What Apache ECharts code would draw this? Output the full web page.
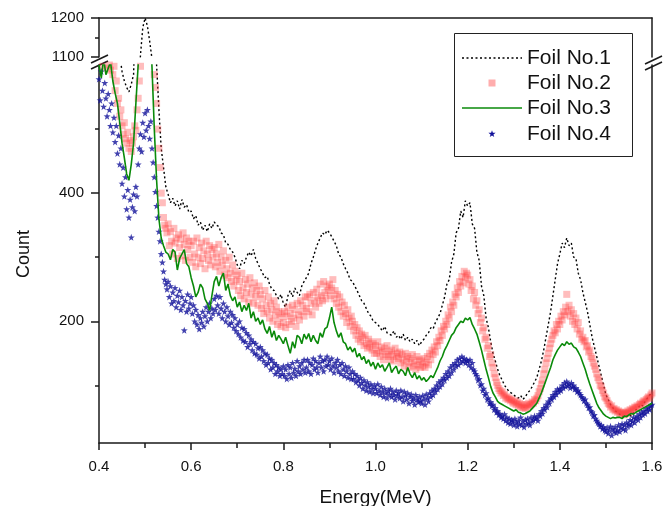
<!DOCTYPE html>
<html>
<head>
<meta charset="utf-8">
<script src="https://cdn.jsdelivr.net/npm/echarts@6/dist/echarts.min.js"></script>
<style>
  html, body { margin: 0; padding: 0; background: #fff; }
  #chart { width: 666px; height: 506px; }
</style>
</head>
<body>
<div id="chart"></div>
<script>
// channel energies start at 0.400 MeV
var energyStart = 0.4;
var lineStep = 0.005;     // foil 1 and 3 (lines)
var pointStep = 0.0025;   // foil 2 and 4 (points)

var seriesNames = ['Foil No.1', 'Foil No.2', 'Foil No.3', 'Foil No.4'];

var foil1 = [
    760, 720, 740, 700, 710, 690, 670, 650, 640, 615,
    590, 575, 565, 558, 570, 585, 700, 1000, 1105, 1175,
    1200, 1180, 1140, 1095, 800, 600, 530, 470, 440, 410,
    398, 385, 392, 380, 388, 375, 390, 378, 382, 370,
    372, 360, 365, 350, 355, 342, 350, 340, 352, 345,
    355, 350, 348, 338, 335, 322, 320, 312, 308, 300,
    288, 282, 295, 290, 300, 308, 302, 312, 298, 290,
    282, 275, 268, 270, 258, 250, 248, 240, 235, 242,
    228, 222, 240, 248, 238, 252, 245, 240, 255, 262,
    268, 275, 290, 300, 312, 322, 330, 338, 335, 342,
    338, 332, 325, 318, 305, 300, 290, 282, 275, 265,
    262, 255, 248, 240, 232, 228, 220, 212, 208, 200,
    198, 195, 190, 185, 192, 182, 180, 178, 185, 175,
    178, 172, 180, 170, 175, 168, 172, 165, 170, 162,
    168, 172, 178, 182, 190, 188, 198, 205, 212, 225,
    238, 258, 265, 292, 305, 338, 345, 372, 362, 388,
    380, 385, 352, 345, 308, 295, 255, 240, 205, 190,
    168, 150, 138, 125, 115, 108, 100, 95, 90, 88,
    85, 82, 80, 84, 78, 82, 88, 92, 98, 105,
    112, 125, 138, 155, 175, 195, 215, 240, 265, 290,
    305, 322, 315, 330, 318, 322, 300, 298, 275, 265,
    245, 230, 215, 195, 175, 160, 145, 130, 115, 100,
    85, 78, 70, 65, 60, 58, 55, 52, 50, 52,
    55, 52, 58, 62, 65, 70, 68, 75, 80, 85, 88
];

var foil2 = [
    650, 612, 630, 598, 640, 605, 620, 595, 615, 600, 592, 610, 585, 598, 560, 575, 540, 548, 520, 530,
    505, 492, 510, 485, 478, 495, 470, 482, 465, 478, 488, 505, 498, 530, 548, 575, 598, 640, 700, 760,
    850, 830, 800, 770, 720, 690, 650, 615, 585, 565, 540, 500, 470, 440, 400, 385, 362, 350, 345, 338,
    352, 318, 340, 325, 305, 345, 322, 330, 298, 335, 315, 328, 302, 338, 320, 295, 330, 312, 325, 300,
    318, 292, 325, 305, 285, 330, 300, 315, 290, 322, 298, 310, 282, 325, 305, 295, 318, 288, 312, 300,
    315, 285, 305, 292, 320, 278, 300, 288, 310, 272, 295, 282, 268, 300, 275, 262, 288, 255, 278, 265,
    272, 248, 262, 240, 275, 252, 235, 265, 245, 258, 230, 268, 242, 252, 228, 260, 238, 248, 225, 255,
    242, 220, 235, 212, 248, 225, 215, 238, 205, 228, 218, 200, 232, 210, 222, 195, 215, 205, 192, 212,
    198, 215, 190, 208, 222, 195, 212, 200, 225, 205, 218, 192, 228, 210, 202, 232, 215, 225, 208, 238,
    220, 238, 215, 242, 228, 210, 245, 232, 222, 250, 238, 228, 258, 240, 232, 262, 245, 235, 255, 248,
    258, 240, 252, 265, 235, 248, 228, 242, 222, 238, 215, 230, 208, 225, 212, 198, 218, 205, 192, 208,
    200, 185, 195, 178, 190, 172, 185, 168, 180, 175, 162, 178, 165, 158, 172, 160, 168, 155, 165, 150,
    162, 150, 168, 155, 145, 160, 152, 140, 158, 148, 162, 145, 152, 140, 155, 148, 138, 158, 145, 150,
    142, 152, 135, 148, 140, 130, 150, 138, 145, 128, 142, 135, 148, 130, 138, 125, 145, 132, 140, 128,
    138, 130, 142, 128, 135, 145, 132, 150, 140, 155, 148, 160, 152, 168, 162, 175, 170, 185, 178, 192,
    188, 200, 195, 210, 205, 222, 215, 230, 225, 242, 238, 252, 245, 262, 255, 270, 260, 278, 268, 275,
    272, 258, 265, 248, 255, 235, 245, 225, 232, 212, 218, 198, 205, 185, 190, 172, 175, 158, 162, 145,
    148, 135, 128, 118, 112, 105, 100, 95, 92, 88, 90, 84, 86, 80, 82, 78, 80, 76, 78, 74,
    72, 76, 70, 74, 68, 72, 66, 70, 65, 68, 64, 70, 66, 72, 68, 70, 74, 72, 78, 76,
    80, 84, 90, 95, 102, 108, 118, 125, 135, 142, 150, 158, 165, 172, 178, 185, 182, 195, 188, 200,
    195, 208, 202, 215, 210, 222, 242, 215, 225, 208, 218, 200, 212, 195, 205, 188, 198, 180, 185, 172,
    175, 168, 170, 160, 162, 152, 155, 145, 142, 135, 130, 125, 118, 112, 108, 100, 98, 92, 88, 82,
    80, 76, 72, 70, 66, 68, 62, 64, 60, 62, 58, 60, 56, 58, 55, 58, 54, 57, 56, 60,
    58, 62, 60, 64, 62, 66, 65, 68, 66, 70, 72, 70, 74, 76, 74, 78, 80, 82, 80, 85,
    88
];

var foil3 = [
    600, 580, 610, 585, 595, 605, 575, 556, 540, 510,
    478, 455, 430, 420, 445, 478, 540, 600, 720, 850,
    900, 820, 700, 597, 500, 420, 360, 330, 318, 308,
    305, 296, 312, 308, 280, 298, 305, 312, 290, 285,
    268, 255, 238, 245, 258, 252, 235, 228, 217, 240,
    262, 270, 255, 268, 275, 248, 258, 240, 232, 238,
    222, 230, 215, 225, 217, 228, 205, 215, 200, 205,
    195, 202, 188, 181, 192, 175, 185, 170, 178, 172,
    165, 175, 162, 150, 168, 158, 178, 175, 165, 180,
    172, 181, 168, 178, 170, 165, 182, 175, 188, 191,
    205, 222, 198, 185, 175, 182, 168, 165, 155, 160,
    152, 158, 144, 150, 140, 145, 134, 140, 130, 136,
    125, 135, 128, 132, 122, 128, 135, 120, 126, 130,
    118, 125, 122, 115, 128, 118, 112, 120, 110, 115,
    108, 112, 106, 110, 115, 112, 120, 128, 138, 145,
    155, 162, 170, 178, 182, 190, 195, 200, 198, 205,
    202, 206, 195, 188, 180, 168, 155, 140, 125, 112,
    98, 88, 82, 75, 72, 70, 68, 66, 64, 62,
    60, 62, 58, 57, 55, 56, 58, 60, 64, 68,
    72, 80, 88, 98, 108, 118, 128, 140, 148, 155,
    160, 165, 162, 168, 164, 166, 160, 158, 152, 145,
    135, 125, 113, 102, 92, 82, 72, 65, 60, 55,
    52, 50, 48, 50, 49, 50, 50, 48, 52, 51,
    54, 56, 55, 58, 60, 62, 64, 66, 68, 70, 72
];

var foil4 = [
    578, 545, 590, 560, 535, 572, 548, 520, 555, 530, 505, 540, 495, 518, 480, 505, 462, 490, 445, 470,
    415, 440, 395, 425, 375, 405, 362, 390, 331, 378, 398, 372, 410, 395, 445, 470, 492, 465, 510, 488,
    525, 498, 530, 505, 485, 512, 470, 448, 425, 402, 380, 362, 340, 325, 305, 292, 278, 265, 258, 250,
    262, 238, 255, 228, 245, 232, 252, 222, 240, 230, 248, 218, 238, 225, 186, 232, 215, 242, 220, 228,
    238, 212, 225, 200, 218, 195, 210, 188, 205, 198, 215, 192, 208, 222, 200, 215, 228, 205, 220, 212,
    235, 218, 240, 225, 212, 238, 220, 205, 228, 215, 200, 222, 208, 195, 215, 198, 210, 190, 205, 185,
    195, 180, 200, 175, 190, 170, 188, 168, 182, 160, 178, 165, 172, 155, 168, 150, 165, 148, 158, 142,
    160, 145, 155, 138, 150, 132, 148, 135, 142, 125, 140, 128, 135, 118, 132, 122, 128, 115, 125, 118,
    130, 115, 125, 110, 132, 118, 128, 112, 135, 120, 126, 115, 138, 122, 130, 118, 135, 125, 140, 120,
    128, 140, 122, 135, 118, 132, 142, 125, 138, 128, 120, 135, 145, 128, 138, 122, 140, 130, 145, 132,
    138, 125, 142, 130, 120, 135, 128, 140, 122, 132, 118, 135, 125, 115, 130, 122, 112, 128, 118, 110,
    122, 110, 118, 105, 115, 108, 100, 112, 104, 95, 108, 100, 92, 105, 98, 90, 102, 95, 88, 100,
    95, 88, 102, 92, 85, 98, 90, 82, 95, 88, 80, 92, 86, 95, 82, 90, 85, 78, 92, 84,
    88, 80, 92, 82, 75, 90, 84, 78, 88, 72, 82, 86, 76, 80, 70, 85, 78, 74, 82, 76,
    72, 84, 78, 70, 86, 80, 75, 88, 82, 92, 85, 95, 90, 100, 94, 105, 98, 108, 102, 112,
    108, 118, 112, 122, 115, 128, 120, 132, 125, 135, 130, 140, 132, 142, 136, 145, 138, 142, 135, 140,
    138, 132, 140, 128, 135, 125, 122, 118, 115, 108, 110, 100, 102, 92, 95, 85, 88, 78, 80, 72,
    74, 68, 70, 62, 65, 58, 60, 54, 56, 50, 52, 48, 55, 45, 50, 42, 48, 40, 46, 44,
    38, 48, 42, 36, 45, 40, 50, 38, 44, 35, 46, 40, 48, 42, 38, 50, 44, 46, 52, 48,
    50, 45, 55, 52, 60, 56, 65, 62, 70, 66, 75, 72, 80, 78, 85, 82, 90, 86, 94, 90,
    95, 92, 100, 96, 104, 98, 106, 100, 102, 96, 104, 98, 100, 94, 96, 90, 92, 88, 85, 82,
    80, 76, 78, 72, 70, 65, 66, 60, 58, 52, 54, 48, 45, 42, 40, 36, 38, 32, 35, 30,
    28, 34, 25, 30, 36, 22, 32, 28, 35, 26, 30, 38, 28, 34, 40, 32, 38, 30, 42, 36,
    40, 46, 38, 44, 50, 42, 48, 52, 46, 55, 50, 58, 54, 60, 56, 64, 60, 66, 62, 68,
    70
];

// broken y axis: lower part 10..600, upper part 1100..1200
var lowerMajorTicks = [200, 400];
var lowerMinorTicks = [100, 300, 500];

var FONT = '"Liberation Sans", Arial, Helvetica, sans-serif';
var AXIS_COLOR = '#1a1a1a';
var PINK = 'rgba(255,60,60,0.42)';
var GREEN = '#0a8a0a';
var NAVY = '#12129a';
var STAR = 'path://M0,-10L2.35,-3.24L9.51,-3.09L3.8,1.24L5.88,8.09L0,4L-5.88,8.09L-3.8,1.24L-9.51,-3.09L-2.35,-3.24Z';
var STAR_PTS = [[0, -10], [2.35, -3.24], [9.51, -3.09], [3.8, 1.24], [5.88, 8.09],
    [0, 4], [-5.88, 8.09], [-3.8, 1.24], [-9.51, -3.09], [-2.35, -3.24]];

function toPairs(values, step) {
    return values.map(function (v, i) {
        return [+(energyStart + i * step).toFixed(4), v];
    });
}

var chart = echarts.init(document.getElementById('chart'), null, {renderer: 'canvas'});

var styles = [
    {type: 'line', symbol: 'none', lineStyle: {color: '#000', width: 1.4, type: [2, 2.5]}, z: 2},
    {type: 'scatter', symbol: 'rect', symbolSize: 7, itemStyle: {color: PINK}, z: 3},
    {type: 'line', symbol: 'none', lineStyle: {color: GREEN, width: 1.6}, z: 5},
    {type: 'scatter', symbol: STAR, symbolSize: 7, itemStyle: {color: NAVY}, z: 4}
];
var values = [foil1, foil2, foil3, foil4];
var steps = [lineStep, pointStep, lineStep, pointStep];

var series = [];
// each foil is drawn in both parts of the broken axis
[[0, 0], [1, 2]].forEach(function (ax) {
    values.forEach(function (vals, k) {
        series.push(echarts.util.merge({
            name: seriesNames[k],
            xAxisIndex: ax[0],
            yAxisIndex: ax[1],
            data: toPairs(vals, steps[k]),
            clip: true,
            silent: true
        }, styles[k], true));
    });
});

var plainLine = {show: true, lineStyle: {color: AXIS_COLOR, width: 1.5}};
var tickStyle = {color: AXIS_COLOR, width: 1.5};

// legend drawn by hand (small symbols like the original)
var legendRows = [58, 83, 108, 134];
var legendGraphic = [
    {type: 'rect', shape: {x: 454.5, y: 33.5, width: 178, height: 123}, style: {fill: 'none', stroke: '#222', lineWidth: 1}},
    {type: 'line', shape: {x1: 462, y1: legendRows[0], x2: 522, y2: legendRows[0]}, style: {stroke: '#000', lineWidth: 1.4, lineDash: [2, 2.5]}},
    {type: 'rect', shape: {x: 488.5, y: legendRows[1] - 3.5, width: 7, height: 7}, style: {fill: PINK}},
    {type: 'line', shape: {x1: 462, y1: legendRows[2], x2: 522, y2: legendRows[2]}, style: {stroke: GREEN, lineWidth: 1.6}},
    {type: 'polygon', shape: {points: STAR_PTS.map(function (p) { return [492 + p[0] * 0.38, legendRows[3] + p[1] * 0.38]; })}, style: {fill: NAVY}}
];
seriesNames.forEach(function (name, k) {
    legendGraphic.push({
        type: 'text', x: 527, y: legendRows[k],
        style: {text: name, font: '21px ' + FONT, fill: '#111', verticalAlign: 'middle'}
    });
});

// axis break marks
var breakMarks = [
    {type: 'line', shape: {x1: 91, y1: 63, x2: 108, y2: 55}, style: {stroke: AXIS_COLOR, lineWidth: 1.5}},
    {type: 'line', shape: {x1: 91, y1: 69, x2: 108, y2: 61}, style: {stroke: AXIS_COLOR, lineWidth: 1.5}},
    {type: 'line', shape: {x1: 645, y1: 64, x2: 662, y2: 56}, style: {stroke: AXIS_COLOR, lineWidth: 1.5}},
    {type: 'line', shape: {x1: 645, y1: 70, x2: 662, y2: 62}, style: {stroke: AXIS_COLOR, lineWidth: 1.5}}
];

var option = {
    animation: false,
    backgroundColor: '#fff',
    textStyle: {fontFamily: FONT},
    grid: [
        {left: 99, width: 553, top: 65, height: 378, outerBoundsMode: 'none', containLabel: false},
        {left: 99, width: 553, top: 18, height: 39, outerBoundsMode: 'none', containLabel: false}
    ],
    xAxis: [
        {
            gridIndex: 0,
            type: 'value',
            min: 0.4,
            max: 1.6,
            interval: 0.2,
            name: 'Energy(MeV)',
            nameLocation: 'middle',
            nameGap: 45,
            nameTextStyle: {fontFamily: FONT, fontSize: 19, color: '#111'},
            axisLine: plainLine,
            axisTick: {show: true, length: 7, lineStyle: tickStyle},
            minorTick: {show: true, splitNumber: 2, length: 5, lineStyle: tickStyle},
            axisLabel: {fontSize: 15, color: '#111', margin: 16, formatter: function (v) { return v.toFixed(1); }},
            splitLine: {show: false}
        },
        {
            gridIndex: 1,
            type: 'value',
            position: 'top',
            min: 0.4,
            max: 1.6,
            axisLine: plainLine,
            axisTick: {show: false},
            axisLabel: {show: false},
            splitLine: {show: false}
        }
    ],
    yAxis: [
        {
            gridIndex: 0,
            type: 'value',
            position: 'left',
            min: 10,
            max: 600,
            name: 'Count',
            nameLocation: 'middle',
            nameGap: 66,
            nameTextStyle: {fontFamily: FONT, fontSize: 18, color: '#111'},
            axisLine: plainLine,
            axisTick: {show: true, length: 8, customValues: lowerMajorTicks, lineStyle: tickStyle},
            axisLabel: {fontSize: 15, color: '#111', margin: 15, customValues: lowerMajorTicks},
            splitLine: {show: false}
        },
        {
            gridIndex: 0,
            type: 'value',
            position: 'left',
            min: 10,
            max: 600,
            axisLine: {show: false},
            axisTick: {show: true, length: 4, customValues: lowerMinorTicks, lineStyle: tickStyle},
            axisLabel: {show: false},
            splitLine: {show: false}
        },
        {
            gridIndex: 1,
            type: 'value',
            position: 'left',
            min: 1100,
            max: 1200,
            interval: 100,
            axisLine: plainLine,
            axisTick: {show: true, length: 8, lineStyle: tickStyle},
            minorTick: {show: true, splitNumber: 2, length: 4, lineStyle: tickStyle},
            axisLabel: {fontSize: 15, color: '#111', margin: 15, formatter: function (v) { return String(v); }},
            splitLine: {show: false}
        },
        {
            gridIndex: 1,
            type: 'value',
            position: 'right',
            min: 1100,
            max: 1200,
            axisLine: plainLine,
            axisTick: {show: false},
            axisLabel: {show: false},
            splitLine: {show: false}
        },
        {
            gridIndex: 0,
            type: 'value',
            position: 'right',
            min: 10,
            max: 600,
            axisLine: plainLine,
            axisTick: {show: false},
            axisLabel: {show: false},
            splitLine: {show: false}
        }
    ],
    graphic: breakMarks.concat(legendGraphic),
    series: series
};

chart.setOption(option);
</script>
</body>
</html>
